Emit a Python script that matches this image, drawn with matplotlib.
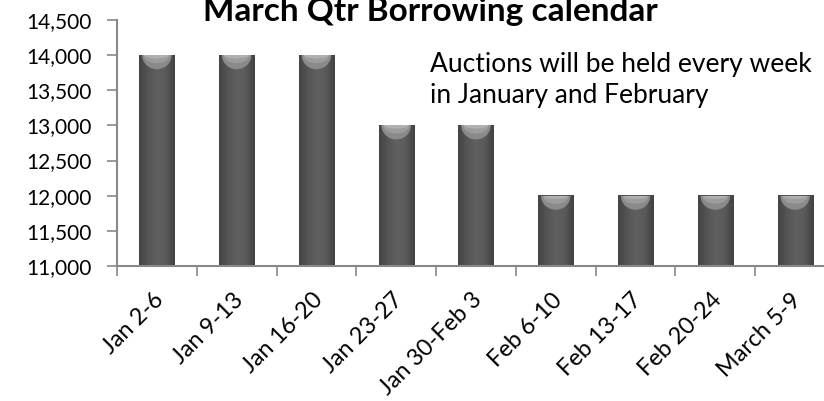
import numpy as np
import matplotlib.pyplot as plt
from matplotlib.patches import Ellipse, Rectangle
from matplotlib.colors import LinearSegmentedColormap
from matplotlib.ticker import FuncFormatter, MultipleLocator
from matplotlib.transforms import ScaledTranslation

plt.rcParams['font.family'] = ['Lato', 'DejaVu Sans']

weeks = ['Jan 2-6', 'Jan 9-13', 'Jan 16-20', 'Jan 23-27', 'Jan 30-Feb 3',
         'Feb 6-10', 'Feb 13-17', 'Feb 20-24', 'March 5-9']
amounts = [14000, 14000, 14000, 13000, 13000, 12000, 12000, 12000, 12000]
y_min, y_max = 11000, 14500

fig = plt.figure(figsize=(8.24, 4.01), dpi=100)
ax = fig.add_axes([117/824, 135/401, 718/824, 246/401])

# bar body: dark grey cylinder shading
shade = LinearSegmentedColormap.from_list('cyl', ['#444444', '#555555', '#606060', '#5a5a5a', '#424242'])
grad = np.linspace(0, 1, 64).reshape(1, -1)
w = 0.44
for i, v in enumerate(amounts):
    ax.imshow(grad, cmap=shade, extent=(i - w/2, i + w/2, y_min, v),
              aspect='auto', interpolation='bicubic', zorder=2)
    # light top cap
    for cw, ch, cc, z in [(0.84, 400, '#8a8a8a', 3), (0.74, 230, '#9c9c9c', 4), (0.7, 90, '#b0b0b0', 5)]:
        cap = Ellipse((i, v), w * cw, ch, facecolor=cc, edgecolor='none', zorder=z)
        ax.add_patch(cap)
        cap.set_clip_path(Rectangle((i - w/2, y_min), w, v - y_min, transform=ax.transData))

ax.set_xlim(-0.5, len(weeks) - 0.5)
ax.set_ylim(y_min, y_max)
ax.yaxis.set_major_locator(MultipleLocator(500))
ax.yaxis.set_major_formatter(FuncFormatter(lambda v, p: f'{int(v):,}'))

ax.set_xticks(np.arange(len(weeks)))
ax.set_xticklabels(weeks, rotation=45, ha='right', va='center', rotation_mode='anchor')
ax.set_xticks(np.arange(len(weeks)) - 0.5, minor=True)
ax.tick_params(axis='x', which='major', length=0, pad=22, labelsize=16.8)
ax.tick_params(axis='x', which='minor', length=7, width=1.2, color='#888888')
ax.tick_params(axis='y', length=7, width=1.2, color='#888888', labelsize=15, pad=11)
shift = ScaledTranslation(3/100, 0, fig.dpi_scale_trans)
for lab in ax.get_xticklabels():
    lab.set_transform(lab.get_transform() + shift)

for s in ['top', 'right']:
    ax.spines[s].set_visible(False)
for s in ['left', 'bottom']:
    ax.spines[s].set_color('#888888')
    ax.spines[s].set_linewidth(1.5)

fig.text(430/824, 1 - 21/401, 'March Qtr Borrowing calendar', ha='center', va='baseline',
         fontsize=24, fontweight='bold')
fig.text(430/824, 1 - 72/401, 'Auctions will be held every week',
         ha='left', va='baseline', fontsize=19)
fig.text(430/824, 1 - 103/401, 'in January and February',
         ha='left', va='baseline', fontsize=19)

fig.savefig('out.png', dpi=100)
